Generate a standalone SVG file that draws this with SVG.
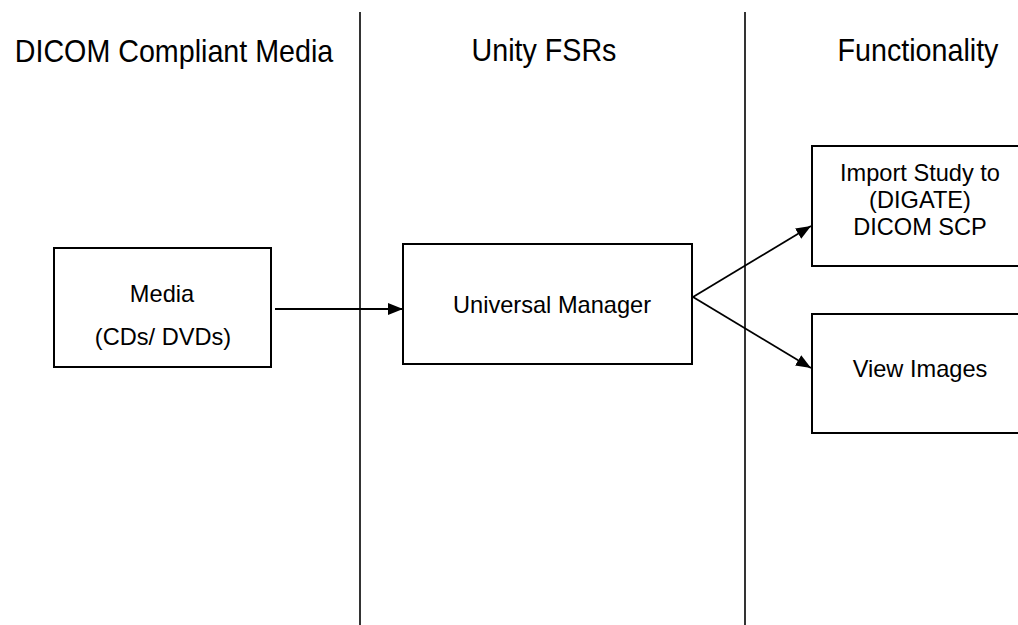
<svg xmlns="http://www.w3.org/2000/svg" width="1018" height="625" viewBox="0 0 1018 625">
<style>
.hdr{font-family:"Liberation Sans",Arial,sans-serif;font-size:31.5px;fill:#000;text-anchor:middle}
.lbl{font-family:"Liberation Sans",Arial,sans-serif;font-size:23.6px;fill:#000;text-anchor:middle}
.box{fill:#fff;stroke:#000;stroke-width:2}
.sep{stroke:#000;stroke-width:1.6;fill:none}
.con{stroke:#000;stroke-width:1.8;fill:none;marker-end:url(#arr)}
</style>
<defs>
<marker id="arr" markerWidth="15" markerHeight="12" refX="15" refY="6" orient="auto" markerUnits="userSpaceOnUse" viewBox="0 0 15 12">
<path d="M0,0 L15,6 L0,12 z" fill="#000"/>
</marker>
</defs>
<rect width="1018" height="625" fill="#fff"/>
<g id="lanes">
<line class="sep" x1="360" y1="12" x2="360" y2="625"/>
<line class="sep" x1="745" y1="12" x2="745" y2="625"/>
<text class="hdr" transform="translate(174,62) scale(0.91,1)">DICOM Compliant Media</text>
<text class="hdr" transform="translate(544,61) scale(0.91,1)">Unity FSRs</text>
<text class="hdr" transform="translate(918,61) scale(0.91,1)">Functionality</text>
</g>
<g id="media">
<rect class="box" x="54" y="248" width="217" height="119"/>
<text class="lbl" x="162" y="302">Media</text>
<text class="lbl" x="163" y="345">(CDs/ DVDs)</text>
</g>
<g id="universal-manager">
<rect class="box" x="403" y="244" width="289" height="120"/>
<text class="lbl" x="552" y="313">Universal Manager</text>
</g>
<g id="import-study">
<rect class="box" x="812" y="146" width="220" height="120"/>
<text class="lbl" x="920" y="181">Import Study to</text>
<text class="lbl" x="920" y="208">(DIGATE)</text>
<text class="lbl" x="920" y="235">DICOM SCP</text>
</g>
<g id="view-images">
<rect class="box" x="812" y="314" width="220" height="119"/>
<text class="lbl" x="920" y="377">View Images</text>
</g>
<g id="connectors">
<line class="con" x1="275" y1="309" x2="403" y2="309"/>
<line class="con" x1="693" y1="297" x2="811" y2="226"/>
<line class="con" x1="693" y1="297" x2="811" y2="368"/>
</g>
</svg>
